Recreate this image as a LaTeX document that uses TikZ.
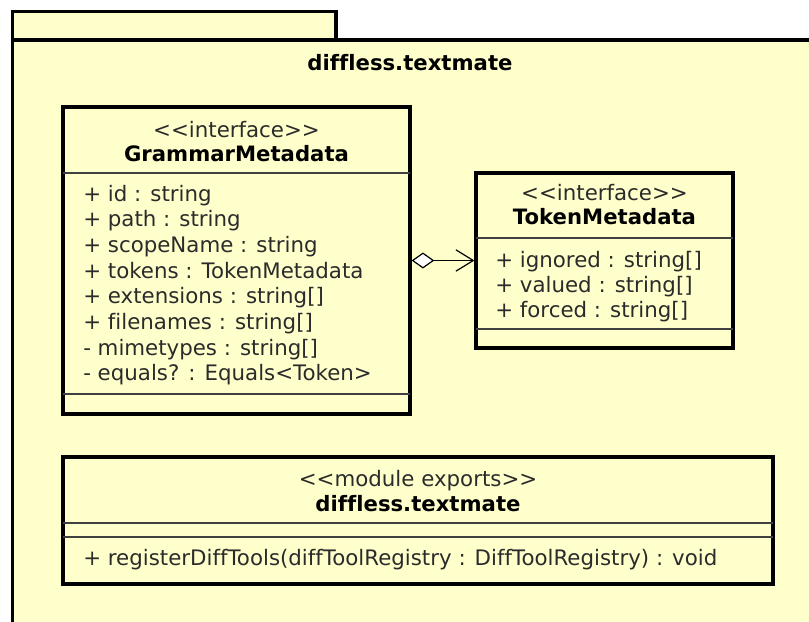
\documentclass[tikz,border=0pt]{standalone}
\usepackage{fontspec}
\setmainfont{DejaVu Sans}[Ligatures={TeXOff,NoCommon}]
\usetikzlibrary{arrows.meta,fit}
\definecolor{umlfill}{HTML}{FFFFCC}
\definecolor{umltext}{HTML}{2B2B2B}
\definecolor{umlsep}{HTML}{404040}
\begin{document}
\begin{tikzpicture}[x=0.75pt,y=-0.75pt,
  boxline/.style={line width=2.4pt, draw=black},
  umlbox/.style={boxline, fill=umlfill, inner sep=0pt},
  sepline/.style={line width=0.9pt, draw=umlsep},
  txt/.style={inner sep=0pt, anchor=base west, font=\fontsize{16}{19}\selectfont, text=umltext},
  stereo/.style={inner sep=0pt, anchor=base, font=\fontsize{16}{19}\selectfont, text=umltext},
  cname/.style={inner sep=0pt, anchor=base, font=\fontsize{15.9}{19}\selectfont\bfseries, text=black},
  aggr/.style={line width=0.9pt, draw=black,
    {Diamond[fill=white,length=17pt,width=12pt]}-{Straight Barb[length=13pt,width=16pt,line width=0.9pt]}},
]
\useasboundingbox (0,0) rectangle (809,621);
\fill[white] (0,0) rectangle (809,621);
\begin{scope}
  \clip (0,0) rectangle (809,621);
  \draw[boxline, fill=umlfill] (12.5,11.5) rectangle (336,40);
  \draw[boxline, fill=umlfill] (12.5,40) rectangle (840,650);
\end{scope}
\node[cname] (pkgtitle) at (410,70) {diffless.textmate};

% GrammarMetadata
\node[umlbox, fit={(63,107) (410,414)}] (gm) {};
\node[stereo] (gmst) at (236.5,137) {<<interface>>};
\node[cname] (gmname) at (236.5,161) {GrammarMetadata};
\draw[sepline] (63,173) -- (410,173);
\node[txt] (gma1) at (83,201) {+ id : string};
\node[txt] (gma2) at (83,226.7) {+ path : string};
\node[txt] (gma3) at (83,252.4) {+ scopeName : string};
\node[txt] (gma4) at (83,278.1) {+ tokens : TokenMetadata};
\node[txt] (gma5) at (83,303.8) {+ extensions : string[]};
\node[txt] (gma6) at (83,329.5) {+ filenames : string[]};
\node[txt] (gma7) at (83,355.2) {- mimetypes : string[]};
\node[txt] (gma8) at (83,380.9) {- equals? : Equals<Token>};
\draw[sepline] (63,394) -- (410,394);

% TokenMetadata
\node[umlbox, fit={(476,173) (733,348)}] (tm) {};
\node[stereo] (tmst) at (604.5,200.7) {<<interface>>};
\node[cname] (tmname) at (604.5,224.3) {TokenMetadata};
\draw[sepline] (476,238) -- (733,238);
\node[txt] (tma1) at (495,267) {+ ignored : string[]};
\node[txt] (tma2) at (495,292) {+ valued : string[]};
\node[txt] (tma3) at (495,317) {+ forced : string[]};
\draw[sepline] (476,329) -- (733,329);

% aggregation
\draw[aggr] (gm.east) -- (tm.west);

% module exports
\node[umlbox, fit={(63,457) (773,584)}] (mod) {};
\node[stereo] (modst) at (418,486) {<<module exports>>};
\node[cname] (modname) at (418,511) {diffless.textmate};
\draw[sepline] (63,523) -- (773,523);
\draw[sepline] (63,537) -- (773,537);
\node[txt] (modm1) at (83,565) {+ registerDiffTools(diffToolRegistry : DiffToolRegistry) : void};
\end{tikzpicture}
\end{document}
